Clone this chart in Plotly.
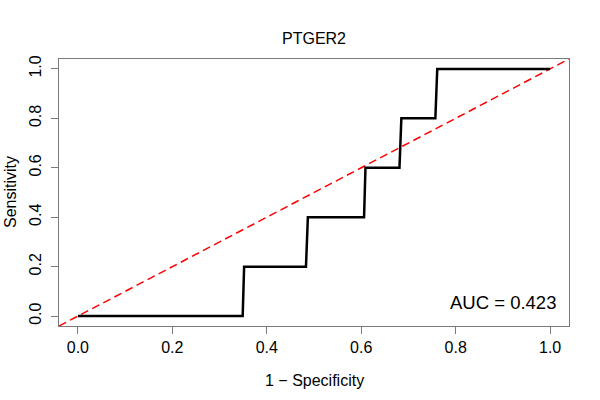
import plotly.graph_objects as go

# ROC curve data (1 - specificity, sensitivity)
fpr = [0.0, 0.349, 0.352, 0.483, 0.487, 0.606, 0.609, 0.681, 0.685, 0.757, 0.761, 1.0]
tpr = [0.0, 0.0, 0.2, 0.2, 0.4, 0.4, 0.6, 0.6, 0.8, 0.8, 1.0, 1.0]
diag_x = [-0.04, 1.04]
diag_y = [-0.04, 1.04]
tick_vals = [0.0, 0.2, 0.4, 0.6, 0.8, 1.0]
tick_text = ["0.0", "0.2", "0.4", "0.6", "0.8", "1.0"]
title_text = "PTGER2"
auc_text = "AUC = 0.423"
x_title = "1 − Specificity"
y_title = "Sensitivity"

FONT = "Liberation Sans, Arial, Helvetica, sans-serif"
GREY = "#7a7a7a"

# plot area in pixels
PL, PT, PW, PH = 59, 59, 510, 267

def px_x(p):
    return (p - PL) / PW

def px_y(p):
    return (PT + PH - p) / PH

fig = go.Figure()
fig.add_trace(go.Scatter(x=diag_x, y=diag_y, mode="lines",
                         line=dict(color="#ff0000", width=1.5, dash="8px,4.5px"),
                         hoverinfo="skip", showlegend=False))
fig.add_trace(go.Scatter(x=fpr, y=tpr, mode="lines",
                         line=dict(color="black", width=2.5),
                         showlegend=False))

axis_common = dict(
    showgrid=False, zeroline=False, showline=True, mirror=True,
    linecolor=GREY, linewidth=1.2, ticks="outside", ticklen=7,
    tickcolor=GREY, tickwidth=1.2, tickvals=tick_vals, ticktext=tick_text,
    tickfont=dict(family=FONT, size=16, color="black"),
    range=[-0.04, 1.04],
)
fig.update_xaxes(**axis_common)
fig.update_yaxes(**axis_common, tickangle=-90, ticklabelstandoff=4)

fig.update_layout(
    width=600, height=400,
    margin=dict(l=PL, r=600 - PL - PW, t=PT, b=400 - PT - PH),
    plot_bgcolor="white", paper_bgcolor="white",
    title=dict(text=title_text, x=314 / 600, xanchor="center",
               y=1 - 38 / 400, yanchor="middle", yref="container",
               font=dict(family=FONT, size=16, color="black")),
    annotations=[
        dict(text=auc_text, x=1.016, y=0.055, xref="x", yref="y",
             xanchor="right", yanchor="middle", showarrow=False,
             font=dict(family=FONT, size=18.5, color="black")),
        dict(text=x_title, x=px_x(314), y=px_y(380), xref="paper", yref="paper",
             xanchor="center", yanchor="middle", showarrow=False,
             font=dict(family=FONT, size=16, color="black")),
        dict(text=y_title, x=px_x(10), y=px_y(192), xref="paper", yref="paper",
             textangle=-90, xanchor="center", yanchor="middle", showarrow=False,
             font=dict(family=FONT, size=16, color="black")),
    ],
)

fig.write_html("out.html", config={"displayModeBar": False},
               post_script="document.body.style.margin='0';")
